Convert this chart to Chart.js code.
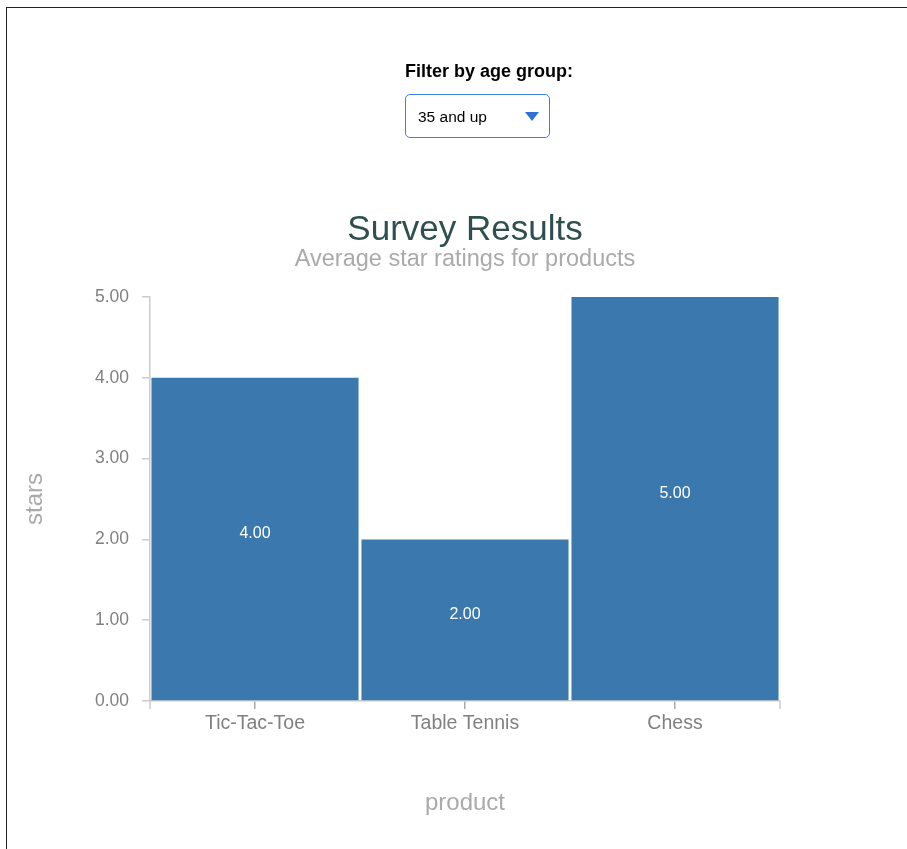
<!DOCTYPE html>
<html>
<head>
<meta charset="utf-8">
<script src="https://cdn.jsdelivr.net/npm/chart.js@4.4.1/dist/chart.umd.min.js"></script>
<style>
  html, body { margin: 0; padding: 0; background: #fff; overflow: hidden; }
  body { width: 907px; height: 849px; position: relative; font-family: "Helvetica Neue", Helvetica, Arial, sans-serif; }
  .frame { position: absolute; left: 6px; top: 7px; width: 1000px; height: 1000px; border-left: 1px solid #222; border-top: 1px solid #222; }
  #chartWrap { position: absolute; left: 0; top: 0; width: 907px; height: 849px; }
  .filter { position: absolute; left: 405px; top: 60px; z-index: 2; }
  .filter label { display: block; font-weight: bold; font-size: 18px; color: #000; line-height: 23px; white-space: nowrap; }
  .filter select {
    margin-top: 11px; width: 145px; height: 44px; padding: 0 12px;
    font-size: 15.5px; font-family: inherit; color: #000;
    border: 1px solid #3f80d8; border-radius: 5px; background-color: #fff;
    -webkit-appearance: none; appearance: none;
    background-image: url("data:image/svg+xml;utf8,<svg xmlns='http://www.w3.org/2000/svg' width='14' height='9'><path d='M0 0H14L7 9Z' fill='%232f72d6'/></svg>");
    background-repeat: no-repeat; background-position: 119px 17px;
  }
</style>
</head>
<body>
<div class="frame"></div>
<div class="filter">
  <label for="ageGroup">Filter by age group:</label>
  <select id="ageGroup">
    <option>18 to 24</option>
    <option>25 to 34</option>
    <option selected>35 and up</option>
  </select>
</div>
<div id="chartWrap"><canvas id="myChart" width="907" height="849"></canvas></div>
<script>
const products = ['Tic-Tac-Toe', 'Table Tennis', 'Chess'];
const stars = [4, 2, 5];
const starTicks = [0, 1, 2, 3, 4, 5];

const barColor = 'rgb(58, 120, 173)';
const axisColor = '#cccccc';
const tickText = '#808080';
const titleGray = '#aaaaaa';
const font = '"Helvetica Neue", Helvetica, Arial, sans-serif';

// value labels inside the bars + outer ticks on x axis ends
const extras = {
  id: 'extras',
  afterDatasetsDraw(chart) {
    const ctx = chart.ctx;
    const meta = chart.getDatasetMeta(0);
    ctx.save();
    ctx.fillStyle = '#ffffff';
    ctx.font = '16px ' + font;
    ctx.textAlign = 'center';
    ctx.textBaseline = 'middle';
    meta.data.forEach((bar, i) => {
      const mid = (bar.y + bar.base) / 2 - 5;
      ctx.fillText(stars[i].toFixed(2), bar.x, mid);
    });
    ctx.restore();
  },
  afterDraw(chart) {
    const { ctx, chartArea } = chart;
    ctx.save();
    ctx.strokeStyle = axisColor;
    ctx.lineWidth = 1.5;
    [chartArea.left, chartArea.right].forEach(x => {
      ctx.beginPath();
      ctx.moveTo(x, chartArea.bottom);
      ctx.lineTo(x, chartArea.bottom + 8);
      ctx.stroke();
    });
    ctx.restore();
  }
};

const data = {
  labels: products,
  datasets: [{
    label: 'stars',
    data: stars,
    backgroundColor: barColor,
    borderWidth: 0,
    barPercentage: 1,
    categoryPercentage: 0.986
  }]
};

const config = {
  type: 'bar',
  data,
  plugins: [extras],
  options: {
    responsive: false,
    animation: false,
    layout: { padding: { left: 0, right: 127, top: 0, bottom: 0 } },
    plugins: {
      legend: { display: false },
      tooltip: { enabled: false },
      title: {
        display: true,
        text: 'Survey Results',
        fullSize: false,
        color: '#2f4f4f',
        font: { family: font, size: 35, weight: 'normal', lineHeight: 1 },
        padding: { top: 213, bottom: 0 }
      },
      subtitle: {
        display: true,
        text: 'Average star ratings for products',
        fullSize: false,
        color: titleGray,
        font: { family: font, size: 23.5, weight: 'normal', lineHeight: 1 },
        padding: { top: 0, bottom: 25.5 }
      }
    },
    scales: {
      x: {
        grid: { offset: false, drawOnChartArea: false, drawTicks: true, tickLength: 8, color: '#aaaaaa', lineWidth: 1.5 },
        border: { display: true, color: axisColor, width: 1.5 },
        ticks: { color: tickText, padding: 3, font: { family: font, size: 19.5 } },
        title: {
          display: true, text: 'product', color: titleGray,
          font: { family: font, size: 24 },
          padding: { top: 0, bottom: 31 }
        },
        afterFit(scale) { scale.height = 148; }
      },
      y: {
        min: 0,
        max: 5,
        afterBuildTicks(scale) { scale.ticks = starTicks.map(v => ({ value: v })); },
        grid: { drawOnChartArea: false, drawTicks: true, tickLength: 8, color: axisColor, lineWidth: 1.5 },
        border: { display: true, color: axisColor, width: 1.5 },
        ticks: {
          color: tickText, padding: 13,
          font: { family: font, size: 17.5 },
          callback: v => Number(v).toFixed(2)
        },
        title: {
          display: true, text: 'stars', color: titleGray,
          font: { family: font, size: 24 },
          padding: { top: 21, bottom: 0 }
        },
        afterFit(scale) { scale.width = 150; }
      }
    }
  }
};

const myChart = new Chart(document.getElementById('myChart'), config);
</script>
</body>
</html>
